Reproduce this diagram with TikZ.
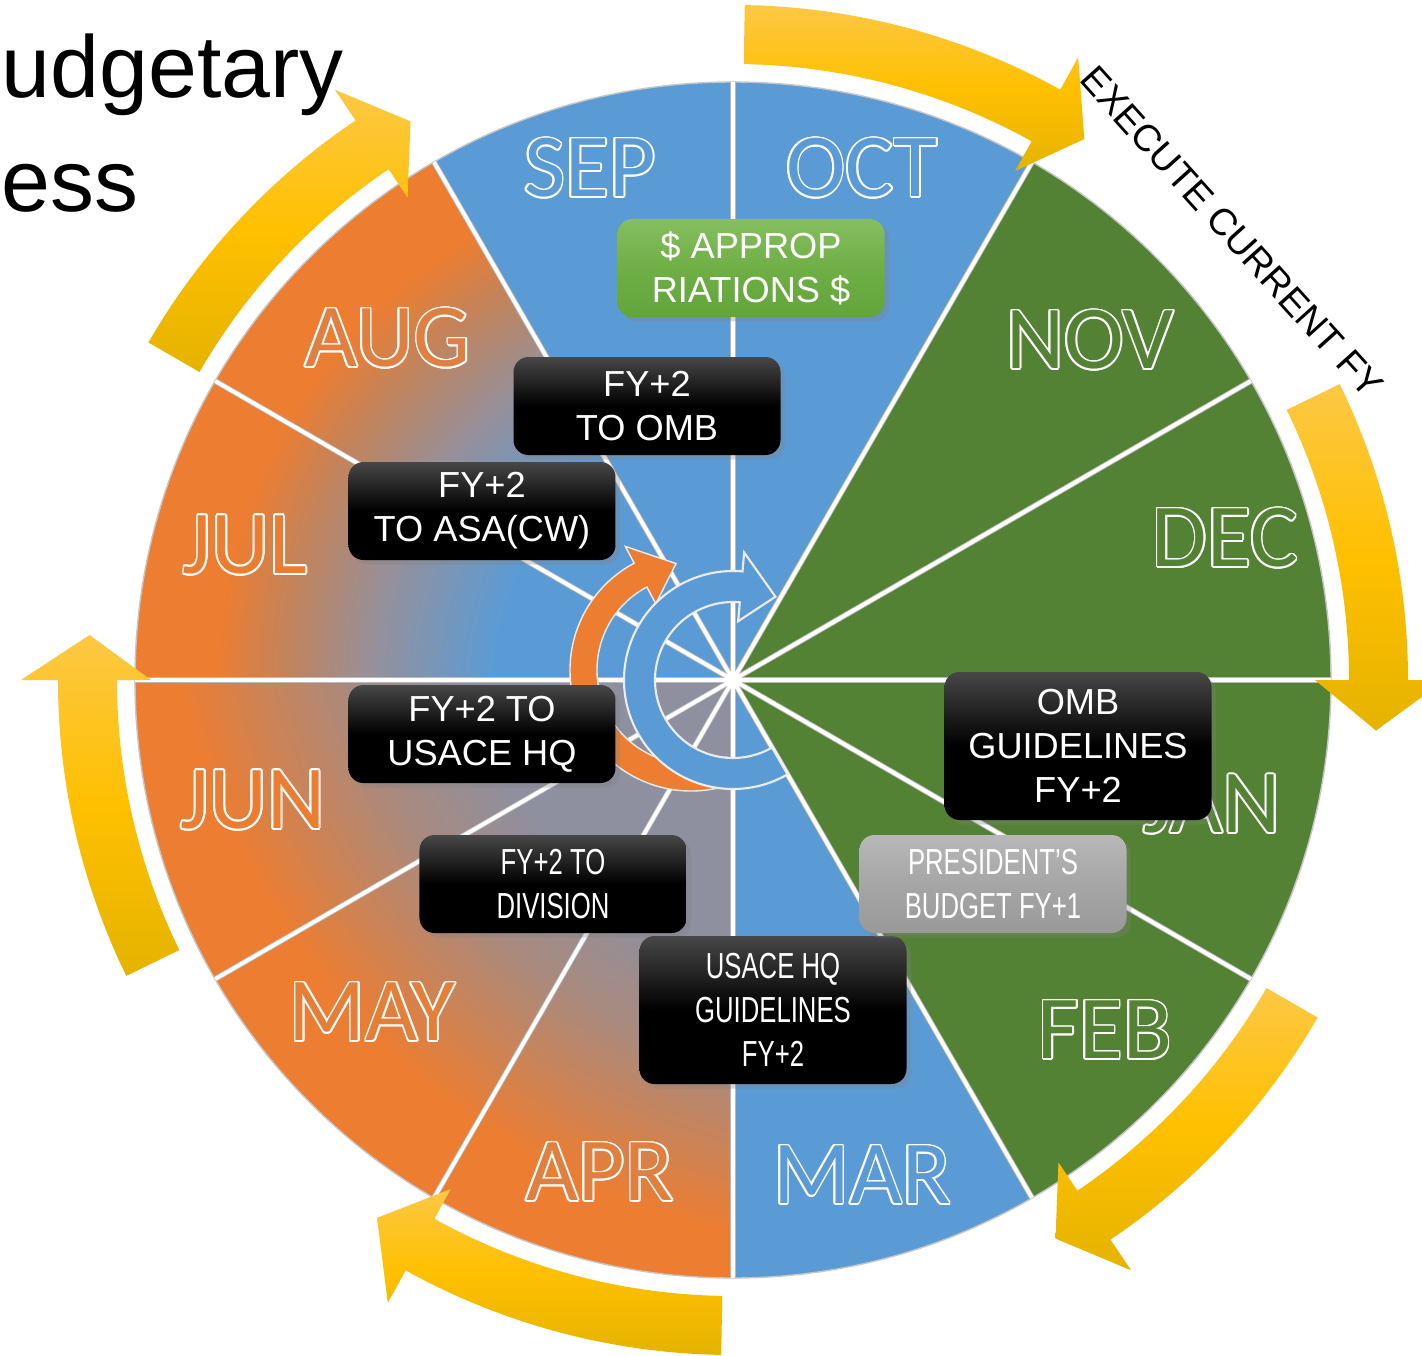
\documentclass[tikz,border=0pt]{standalone}
\usepackage{fontspec}
\setmainfont{Liberation Sans}
\newfontfamily\monthfont{Carlito}
\newfontfamily\narrowfont[FakeStretch=0.71]{Liberation Sans}
\usetikzlibrary{calc, shadows}

\definecolor{wheelblue}{HTML}{5B9BD5}
\definecolor{wheelgreen}{HTML}{548235}
\definecolor{wheelorange}{HTML}{ED7D31}
\definecolor{fadegrey}{HTML}{96909A}
\definecolor{fadebrown}{HTML}{C0845E}
\definecolor{lowgrey}{HTML}{8E8F9F}
\definecolor{lowbrown}{HTML}{A98A7E}
\definecolor{arrowlight}{HTML}{FCC844}
\definecolor{arrowgold}{HTML}{FFC000}
\definecolor{arrowdark}{HTML}{E5B300}
\definecolor{apprlight}{HTML}{86BE60}
\definecolor{apprmid}{HTML}{6FAF46}
\definecolor{apprdark}{HTML}{62A539}
\definecolor{augin}{HTML}{DF8043}
\definecolor{julin}{HTML}{EB7D33}
\definecolor{mayin}{HTML}{E47F3A}
\definecolor{aprin}{HTML}{DF8040}

\pgfdeclareradialshading{julaug}{\pgfpoint{0bp}{0bp}}{color(0bp)=(wheelblue); color(10bp)=(wheelblue); color(15bp)=(fadegrey); color(18.5bp)=(fadebrown); color(21.5bp)=(wheelorange); color(50bp)=(wheelorange)}
\pgfdeclareradialshading{aprjun}{\pgfpoint{0bp}{0bp}}{color(0bp)=(lowgrey); color(12.5bp)=(lowgrey); color(15.5bp)=(lowbrown); color(20bp)=(wheelorange); color(50bp)=(wheelorange)}

\tikzset{
  spoke/.style={white, line width=1.1pt},
  spokeedge/.style={gray!55, line width=1.6pt},
  rimline/.style={gray!45, line width=0.4pt},
  monthlabel/.style={font=\monthfont\fontsize{25.6}{28}\selectfont, inner sep=0pt},
  goldarrow/.style={top color=arrowlight, bottom color=arrowdark, middle color=arrowgold},
  orangeturn/.style={fill=wheelorange, draw=white!85!gray, line width=0.4pt},
  blueturn/.style={fill=wheelblue, draw=white!85!gray, line width=0.6pt},
  note/.style={
    rectangle, rounded corners=1.5mm,
    minimum width=26.7mm, minimum height=9.8mm, inner sep=0.4mm,
    align=center, text=white,
    font=\fontsize{10.3}{12.5}\selectfont,
    drop shadow={shadow xshift=0.45mm, shadow yshift=-0.45mm, opacity=0.3}
  },
  darknote/.style={note, top color=black!72, bottom color=black, middle color=black},
  greennote/.style={note, top color=apprlight, bottom color=apprdark, middle color=apprmid},
  greynote/.style={note, top color=black!28, bottom color=black!40, middle color=black!35},
  tallnote/.style={minimum height=14.8mm},
  narrowtext/.style={font=\narrowfont\fontsize{10.3}{12.5}\selectfont}
}

% month name: white rim, inner colour of the sector
\newcommand{\monthtag}[4]{%
  \foreach \dir in {0,30,...,330}
    \node[monthlabel, text=white] (#1-\dir) at ($(#2)+(\dir:1.8)$) {#3};
  \node[monthlabel, text=#4] (#1) at (#2) {#3};
}

\begin{document}
\begin{tikzpicture}[x=0.1mm, y=0.1mm]
  \fill[white] (-733,-675) rectangle (689,680);
  \useasboundingbox (-733,-675) rectangle (689,680);
  \coordinate (hub) at (0,0);

  % title
  \node[anchor=base west, inner sep=0pt, font=\fontsize{25}{30}\selectfont] (titletop) at (-732,582) {udgetary};
  \node[anchor=base west, inner sep=0pt, font=\fontsize{25}{30}\selectfont] (titlebottom) at (-732,468) {ess};

  % wheel
  \fill[wheelblue] (hub) -- (60:598) arc[start angle=60, end angle=120, radius=598] -- cycle;
  \fill[wheelgreen] (hub) -- (-60:598) arc[start angle=-60, end angle=60, radius=598] -- cycle;
  \fill[wheelblue] (hub) -- (-90:598) arc[start angle=-90, end angle=-60, radius=598] -- cycle;
  \begin{scope}
    \clip (hub) -- (120:598) arc[start angle=120, end angle=180, radius=598] -- cycle;
    \shade[shading=julaug] (hub) circle (600);
  \end{scope}
  \begin{scope}
    \clip (hub) -- (180:598) arc[start angle=180, end angle=270, radius=598] -- cycle;
    \shade[shading=aprjun] (150,150) circle (900);
  \end{scope}
  \draw[rimline] (hub) circle (598);
  \foreach \a in {0,30,...,330}
    \draw[spokeedge] (hub) -- (\a:598);
  \foreach \a in {0,30,...,330}
    \draw[spoke] (hub) -- (\a:598);
  \fill[white] (hub) circle (9);

  % turning arrows in the middle
  \coordinate (ohub) at (-42,10);
  \filldraw[orangeturn] ($(ohub)+(292:121)$) arc[start angle=292, end angle=118, radius=121]
    -- ($(ohub)+(118:140)$) -- ($(ohub)+(98:107.5)$) -- ($(ohub)+(118:75)$)
    -- ($(ohub)+(118:94)$) arc[start angle=118, end angle=292, radius=94] -- cycle;
  \filldraw[blueturn] ($(hub)+(300:109)$) arc[start angle=300, end angle=85, radius=109]
    -- ($(hub)+(85:128)$) -- ($(hub)+(63:93.5)$) -- ($(hub)+(85:59)$)
    -- ($(hub)+(85:78)$) arc[start angle=85, end angle=300, radius=78] -- cycle;

  % months
  \monthtag{sep}{-143,512}{SEP}{wheelblue}
  \monthtag{oct}{129,512}{OCT}{wheelblue}
  \monthtag{nov}{357,340}{NOV}{wheelgreen}
  \monthtag{dec}{492,142}{DEC}{wheelgreen}
  \monthtag{jan}{479,-124}{JAN}{wheelgreen}
  \monthtag{feb}{372,-350}{FEB}{wheelgreen}
  \monthtag{mar}{129,-495}{MAR}{wheelblue}
  \monthtag{apr}{-133,-492}{APR}{aprin}
  \monthtag{may}{-361,-332}{MAY}{mayin}
  \monthtag{jun}{-480,-120}{JUN}{julin}
  \monthtag{jul}{-488,135}{JUL}{julin}
  \monthtag{aug}{-345,342}{AUG}{augin}

  % outer ring of arrows
  \foreach \a/\b/\h in {89/61/57, 26/0/-4.5, -30/-56/-60, -91/-119/-123.5, 206/180/176, 150/124/120}
    \shade[goldarrow] (\a:675) arc[start angle=\a, end angle=\b, radius=675]
      -- (\b:712) -- (\h:645) -- (\b:582)
      -- (\b:616) arc[start angle=\b, end angle=\a, radius=616] -- cycle;

  % steps
  \node[greennote] (approp) at (18,412) {\$ APPROP\\RIATIONS \$};
  \node[darknote] (toomb) at (-86,274) {FY+2\\TO OMB};
  \node[darknote] (toasa) at (-251,169) {FY+2\\TO ASA(CW)};
  \node[darknote] (tohq) at (-251,-54) {FY+2 TO\\USACE HQ};
  \node[darknote, narrowtext] (todiv) at (-180,-204) {FY+2 TO\\DIVISION};
  \node[darknote, tallnote, narrowtext] (hqguide) at (40,-330) {USACE HQ\\GUIDELINES\\FY+2};
  \node[darknote, tallnote] (ombguide) at (345,-66) {OMB\\GUIDELINES\\FY+2};
  \node[greynote, narrowtext] (presbudget) at (260,-204) {PRESIDENT’S\\BUDGET FY+1};

  \node[rotate=-48, inner sep=0pt, font=\fontsize{10.7}{12}\selectfont] (execute) at (499,448) {EXECUTE CURRENT FY};
\end{tikzpicture}
\end{document}
